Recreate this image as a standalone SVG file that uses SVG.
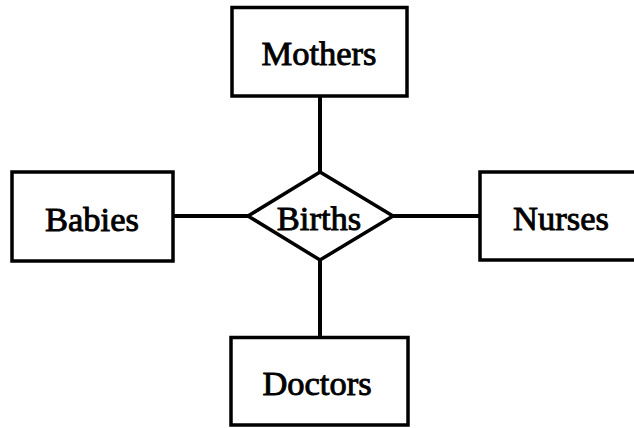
<svg xmlns="http://www.w3.org/2000/svg" width="634" height="428" viewBox="0 0 634 428">
  <style>
    .box { fill: #fff; stroke: #000; stroke-width: 3.5; }
    .link { stroke: #000; stroke-width: 4; fill: none; }
    .label { font-family: "Liberation Serif", "Times New Roman", serif; font-size: 34.5px; fill: #000; stroke: #000; stroke-width: 0.9; text-anchor: middle; }
  </style>
  <rect width="634" height="428" fill="#fff"/>

  <g id="connectors">
    <line class="link" x1="320" y1="96" x2="320" y2="172"/>
    <line class="link" x1="320" y1="260" x2="320" y2="337"/>
    <line class="link" x1="173" y1="216" x2="248" y2="216"/>
    <line class="link" x1="393" y1="216" x2="480" y2="216"/>
  </g>

  <g id="mothers">
    <rect class="box" x="232" y="7.5" width="175" height="88.5"/>
    <text class="label" x="319" y="65">Mothers</text>
  </g>

  <g id="babies">
    <rect class="box" x="12" y="172" width="161" height="89"/>
    <text class="label" x="92" y="231">Babies</text>
  </g>

  <g id="nurses">
    <rect class="box" x="480" y="172" width="160" height="88"/>
    <text class="label" x="561" y="230">Nurses</text>
  </g>

  <g id="doctors">
    <rect class="box" x="231" y="337.5" width="177" height="87.5"/>
    <text class="label" x="317" y="395">Doctors</text>
  </g>

  <g id="births">
    <polygon class="box" points="320,172 393,216 320,260 248,216"/>
    <text class="label" x="319" y="230">Births</text>
  </g>
</svg>
